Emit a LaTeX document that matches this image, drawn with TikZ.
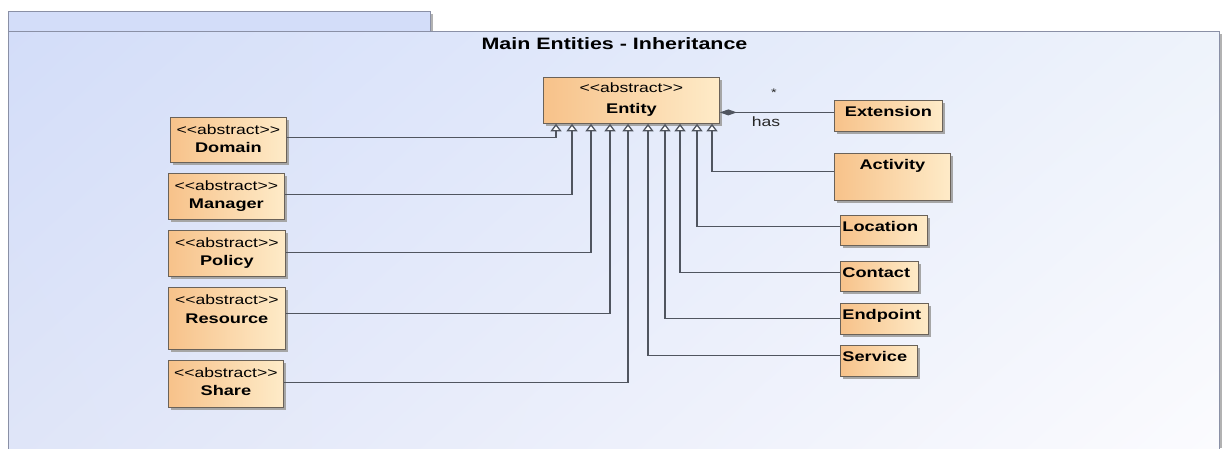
\documentclass[tikz,border=0pt]{standalone}
\usepackage{fontspec}
\setmainfont{Liberation Sans}[FakeStretch=1.3]
\usetikzlibrary{arrows.meta,shadows,shadings}
\definecolor{pkgUL}{HTML}{D3DDF9}
\definecolor{pkgUR}{HTML}{EEF3FB}
\definecolor{pkgLL}{HTML}{DFE5F8}
\definecolor{pkgLR}{HTML}{FBFBFE}
\definecolor{pkgline}{HTML}{8A90A6}
\definecolor{boxL}{HTML}{F7C28A}
\definecolor{boxR}{HTML}{FEEBC8}
\definecolor{boxline}{HTML}{6A6259}
\definecolor{conn}{HTML}{50555F}
\newcommand{\abstr}{<{}<abstract>{}>}
% width, height, first baseline, extra gap, name
\newcommand{\twoline}[5]{\parbox[t][#2][t]{#1}{\fontsize{13.5}{17}\selectfont\centering\rule{0pt}{#3}\abstr\\[#4]{\bfseries\fontsize{14}{17}\selectfont #5}\par}}
% width, height, alignment, name
\newcommand{\oneline}[4]{\parbox[t][#2][t]{#1}{#3\rule{0pt}{16.5pt}{\bfseries\fontsize{14}{17}\selectfont #4}\par}}
\begin{document}
\begin{tikzpicture}[x=1pt,y=-1pt,
  cls/.style={draw=boxline, line width=0.8pt, left color=boxL, right color=boxR,
    inner sep=0pt, anchor=north west,
    general shadow={fill=black!35, shadow xshift=2.5pt, shadow yshift=-2.5pt}},
  gen/.style={draw=conn, line width=1.3pt, -{Triangle[width=11pt,length=7.5pt,fill=white]}},
  comp/.style={draw=conn, line width=1.3pt, -{Diamond[width=6pt,length=17pt,fill=conn]}},
  lbl/.style={font=\fontsize{13.5}{16}\selectfont, inner sep=0pt, anchor=base, text=black!85}]
\useasboundingbox (0,0) rectangle (1222,448);
% package frame
\fill[black!30] (10.5,13.5) rectangle (432.5,31);
\draw[pkgline, line width=1pt, fill=pkgUL] (8,11) rectangle (430,31);
\fill[black!30] (1219,33.5) rectangle (1221.5,448);
\shade[upper left=pkgUL, upper right=pkgUR, lower left=pkgLL, lower right=pkgLR] (8,31) rectangle (1219,448);
\draw[pkgline, line width=1pt] (8,449) -- (8,31) -- (1219,31) -- (1219,449);
\node[font=\bfseries\fontsize{16.5}{19}\selectfont, inner sep=0pt, anchor=base] (title) at (614.5,49.3) {Main Entities - Inheritance};
% classes
\node[cls] (ent) at (543,77) {\twoline{176pt}{46pt}{15pt}{4pt}{Entity}};
\node[cls] (dom) at (170,117) {\twoline{116pt}{45pt}{17.5pt}{1pt}{Domain}};
\node[cls] (man) at (168,173) {\twoline{116pt}{46pt}{17.5pt}{1pt}{Manager}};
\node[cls] (pol) at (168,230) {\twoline{117pt}{46pt}{17.5pt}{1pt}{Policy}};
\node[cls] (res) at (168,287) {\twoline{117pt}{62pt}{17pt}{2pt}{Resource}};
\node[cls] (sha) at (168,360) {\twoline{115pt}{47pt}{17.5pt}{1pt}{Share}};
\node[cls] (ext) at (834,100) {\oneline{108pt}{31pt}{\centering}{Extension}};
\node[cls] (act) at (834,153) {\oneline{116pt}{47pt}{\centering}{Activity}};
\node[cls] (loc) at (840,215) {\oneline{87pt}{30pt}{\hspace*{2pt}}{Location}};
\node[cls] (con) at (840,261) {\oneline{78pt}{30pt}{\hspace*{2pt}}{Contact}};
\node[cls] (end) at (840,303) {\oneline{88pt}{31pt}{\hspace*{2pt}}{Endpoint}};
\node[cls] (ser) at (840,345) {\oneline{77pt}{31pt}{\hspace*{2pt}}{Service}};
% attachment points on Entity
\path (ent.south west) ++(13,0) coordinate (g1);
\path (ent.south west) ++(29,0) coordinate (g2);
\path (ent.south west) ++(48,0) coordinate (g3);
\path (ent.south west) ++(67,0) coordinate (g4);
\path (ent.south west) ++(85,0) coordinate (g5);
\path (ent.south west) ++(105,0) coordinate (g6);
\path (ent.south west) ++(122,0) coordinate (g7);
\path (ent.south west) ++(137,0) coordinate (g8);
\path (ent.south west) ++(154,0) coordinate (g9);
\path (ent.south west) ++(169,0) coordinate (g10);
% generalizations
\draw[gen] ([yshift=2.5pt]dom.east) -| (g1);
\draw[gen] ([yshift=2pt]man.east) -| (g2);
\draw[gen] ([yshift=1pt]pol.east) -| (g3);
\draw[gen] ([yshift=5pt]res.east) -| (g4);
\draw[gen] ([yshift=1.5pt]sha.east) -| (g5);
\draw[gen] ([yshift=5.5pt]ser.west) -| (g6);
\draw[gen] ([yshift=0.5pt]end.west) -| (g7);
\draw[gen] ([yshift=4pt]con.west) -| (g8);
\draw[gen] ([yshift=4pt]loc.west) -| (g9);
\draw[gen] ([yshift=5.5pt]act.west) -| (g10);
% composition
\coordinate (c1) at ([yshift=3.5pt]ext.west);
\draw[comp] (c1) -- (c1 -| ent.east);
\node[lbl] (has) at (766,126.7) {has};
\node[lbl, font=\fontsize{11}{13}\selectfont] (star) at (774,96.5) {*};
\end{tikzpicture}
\end{document}
